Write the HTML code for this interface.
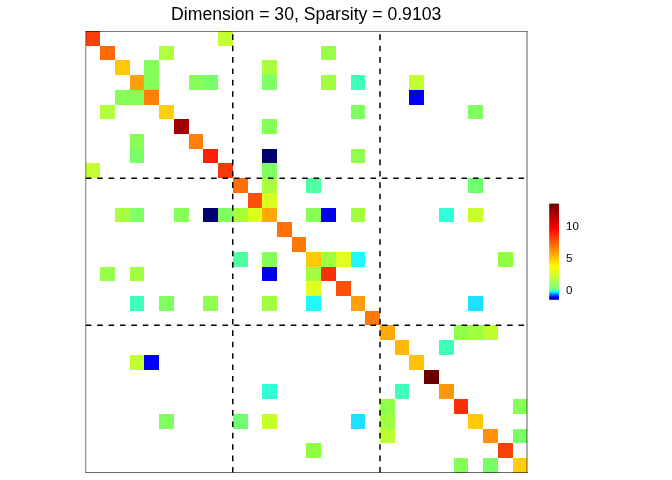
<!DOCTYPE html>
<html><head><meta charset="utf-8"><title>Dimension = 30, Sparsity = 0.9103</title>
<style>
html,body{margin:0;padding:0;background:#fff;}
body{width:672px;height:480px;overflow:hidden;position:relative;}
svg{position:absolute;left:0;top:0;display:block;}
text{font-family:"Liberation Sans",Arial,Helvetica,sans-serif;fill:#000;}
</style></head><body>
<svg width="672" height="480" viewBox="0 0 672 480">
<defs>
<linearGradient id="cb" x1="0" y1="0" x2="0" y2="1">
<stop offset="0.0000" stop-color="#6C0000"/><stop offset="0.2588" stop-color="#FF0000"/><stop offset="0.6590" stop-color="#FFFF00"/><stop offset="0.8877" stop-color="#80FF80"/><stop offset="0.9158" stop-color="#00FFFF"/><stop offset="0.9719" stop-color="#0000FF"/><stop offset="1.0000" stop-color="#000080"/>
</linearGradient>
</defs>
<rect width="672" height="480" fill="#fff"/>
<text x="306.2" y="19.7" font-size="17.62" text-anchor="middle" id="title">Dimension = 30, Sparsity = 0.9103</text>
<g shape-rendering="crispEdges">
<rect x="86" y="31" width="14" height="15" fill="#F84008"/>
<rect x="218" y="31" width="15" height="15" fill="#C4FF33"/>
<rect x="100" y="46" width="15" height="14" fill="#FF6A08"/>
<rect x="159" y="46" width="15" height="14" fill="#B0FF40"/>
<rect x="321" y="46" width="15" height="14" fill="#98FF48"/>
<rect x="115" y="60" width="15" height="15" fill="#FFC808"/>
<rect x="144" y="60" width="15" height="15" fill="#84FF5A"/>
<rect x="262" y="60" width="15" height="15" fill="#A8FF40"/>
<rect x="130" y="75" width="14" height="15" fill="#FFA008"/>
<rect x="144" y="75" width="15" height="15" fill="#84FF5A"/>
<rect x="189" y="75" width="14" height="15" fill="#88FF58"/>
<rect x="203" y="75" width="15" height="15" fill="#78FF68"/>
<rect x="262" y="75" width="15" height="15" fill="#80FF68"/>
<rect x="321" y="75" width="15" height="15" fill="#A0FF40"/>
<rect x="351" y="75" width="14" height="15" fill="#40FFB8"/>
<rect x="409" y="75" width="15" height="15" fill="#C0FF30"/>
<rect x="115" y="90" width="15" height="15" fill="#84FF5A"/>
<rect x="130" y="90" width="14" height="15" fill="#84FF5A"/>
<rect x="144" y="90" width="15" height="15" fill="#FF8008"/>
<rect x="409" y="90" width="15" height="15" fill="#0000F8"/>
<rect x="100" y="105" width="15" height="14" fill="#B0FF40"/>
<rect x="159" y="105" width="15" height="14" fill="#FFD008"/>
<rect x="351" y="105" width="14" height="14" fill="#80FF60"/>
<rect x="468" y="105" width="15" height="14" fill="#80FF60"/>
<rect x="174" y="119" width="15" height="15" fill="#A00000"/>
<rect x="262" y="119" width="15" height="15" fill="#88FF58"/>
<rect x="130" y="134" width="14" height="15" fill="#88FF58"/>
<rect x="189" y="134" width="14" height="15" fill="#FF8008"/>
<rect x="130" y="149" width="14" height="14" fill="#78FF68"/>
<rect x="203" y="149" width="15" height="14" fill="#F82008"/>
<rect x="262" y="149" width="15" height="14" fill="#000070"/>
<rect x="351" y="149" width="14" height="14" fill="#90FF50"/>
<rect x="86" y="163" width="14" height="15" fill="#C4FF33"/>
<rect x="218" y="163" width="15" height="15" fill="#F83808"/>
<rect x="262" y="163" width="15" height="15" fill="#80FF60"/>
<rect x="233" y="178" width="15" height="15" fill="#FF7008"/>
<rect x="262" y="178" width="15" height="15" fill="#A8FF3C"/>
<rect x="306" y="178" width="15" height="15" fill="#50FFA0"/>
<rect x="468" y="178" width="15" height="15" fill="#70FF70"/>
<rect x="248" y="193" width="14" height="15" fill="#FF5008"/>
<rect x="262" y="193" width="15" height="15" fill="#D8FF20"/>
<rect x="115" y="208" width="15" height="14" fill="#A8FF40"/>
<rect x="130" y="208" width="14" height="14" fill="#80FF68"/>
<rect x="174" y="208" width="15" height="14" fill="#88FF58"/>
<rect x="203" y="208" width="15" height="14" fill="#000070"/>
<rect x="218" y="208" width="15" height="14" fill="#80FF60"/>
<rect x="233" y="208" width="15" height="14" fill="#A8FF3C"/>
<rect x="248" y="208" width="14" height="14" fill="#D8FF20"/>
<rect x="262" y="208" width="15" height="14" fill="#FFA808"/>
<rect x="306" y="208" width="15" height="14" fill="#88FF58"/>
<rect x="321" y="208" width="15" height="14" fill="#0000F0"/>
<rect x="351" y="208" width="14" height="14" fill="#A0FF40"/>
<rect x="439" y="208" width="15" height="14" fill="#30FFD8"/>
<rect x="468" y="208" width="15" height="14" fill="#C8FF28"/>
<rect x="277" y="222" width="15" height="15" fill="#FF7008"/>
<rect x="292" y="237" width="14" height="15" fill="#FF7808"/>
<rect x="233" y="252" width="15" height="15" fill="#50FFA0"/>
<rect x="262" y="252" width="15" height="15" fill="#88FF58"/>
<rect x="306" y="252" width="15" height="15" fill="#FFC808"/>
<rect x="321" y="252" width="15" height="15" fill="#A0FF40"/>
<rect x="336" y="252" width="15" height="15" fill="#E0FF20"/>
<rect x="351" y="252" width="14" height="15" fill="#20F8FF"/>
<rect x="498" y="252" width="15" height="15" fill="#90FF40"/>
<rect x="100" y="267" width="15" height="14" fill="#98FF48"/>
<rect x="130" y="267" width="14" height="14" fill="#A0FF40"/>
<rect x="262" y="267" width="15" height="14" fill="#0000F0"/>
<rect x="306" y="267" width="15" height="14" fill="#A0FF40"/>
<rect x="321" y="267" width="15" height="14" fill="#F83008"/>
<rect x="306" y="281" width="15" height="15" fill="#E0FF20"/>
<rect x="336" y="281" width="15" height="15" fill="#FF5008"/>
<rect x="130" y="296" width="14" height="15" fill="#40FFB8"/>
<rect x="159" y="296" width="15" height="15" fill="#80FF60"/>
<rect x="203" y="296" width="15" height="15" fill="#90FF50"/>
<rect x="262" y="296" width="15" height="15" fill="#A0FF40"/>
<rect x="306" y="296" width="15" height="15" fill="#20F8FF"/>
<rect x="351" y="296" width="14" height="15" fill="#FFA008"/>
<rect x="468" y="296" width="15" height="15" fill="#20E0FF"/>
<rect x="365" y="311" width="15" height="14" fill="#FF7808"/>
<rect x="380" y="325" width="15" height="15" fill="#FFA808"/>
<rect x="454" y="325" width="14" height="15" fill="#90FF48"/>
<rect x="468" y="325" width="15" height="15" fill="#A0FF40"/>
<rect x="483" y="325" width="15" height="15" fill="#BCFF2C"/>
<rect x="395" y="340" width="14" height="15" fill="#FFB808"/>
<rect x="439" y="340" width="15" height="15" fill="#40FFB8"/>
<rect x="130" y="355" width="14" height="15" fill="#C0FF30"/>
<rect x="144" y="355" width="15" height="15" fill="#0000F8"/>
<rect x="409" y="355" width="15" height="15" fill="#FFC208"/>
<rect x="424" y="370" width="15" height="14" fill="#6C0000"/>
<rect x="262" y="384" width="15" height="15" fill="#30FFD8"/>
<rect x="395" y="384" width="14" height="15" fill="#40FFB8"/>
<rect x="439" y="384" width="15" height="15" fill="#FF9808"/>
<rect x="380" y="399" width="15" height="15" fill="#90FF48"/>
<rect x="454" y="399" width="14" height="15" fill="#F83008"/>
<rect x="513" y="399" width="14" height="15" fill="#88FF58"/>
<rect x="159" y="414" width="15" height="15" fill="#80FF60"/>
<rect x="233" y="414" width="15" height="15" fill="#70FF70"/>
<rect x="262" y="414" width="15" height="15" fill="#C8FF28"/>
<rect x="351" y="414" width="14" height="15" fill="#20E0FF"/>
<rect x="380" y="414" width="15" height="15" fill="#A0FF40"/>
<rect x="468" y="414" width="15" height="15" fill="#FFC808"/>
<rect x="380" y="429" width="15" height="14" fill="#BCFF2C"/>
<rect x="483" y="429" width="15" height="14" fill="#FF9008"/>
<rect x="513" y="429" width="14" height="14" fill="#78FF68"/>
<rect x="306" y="443" width="15" height="15" fill="#90FF40"/>
<rect x="498" y="443" width="15" height="15" fill="#F84008"/>
<rect x="454" y="458" width="14" height="15" fill="#88FF58"/>
<rect x="483" y="458" width="15" height="15" fill="#78FF68"/>
<rect x="513" y="458" width="14" height="15" fill="#FFCE08"/>
</g>
<g stroke="#000" stroke-width="1.5" stroke-dasharray="5.6 5.787" fill="none">
<line x1="232.75" y1="472.6" x2="232.75" y2="31.5"/>
<line x1="380" y1="472.6" x2="380" y2="31.5"/>
<line x1="85.8" y1="178.25" x2="527" y2="178.25"/>
<line x1="85.8" y1="325.3" x2="527" y2="325.3"/>
</g>
<g shape-rendering="crispEdges" fill="#000">
<rect x="85" y="31" width="443" height="1" fill-opacity="0.53"/>
<rect x="85" y="472" width="443" height="1" fill-opacity="0.59"/>
<rect x="85" y="32" width="1" height="440" fill-opacity="0.40"/>
<rect x="86" y="32" width="1" height="440" fill-opacity="0.13"/>
<rect x="526" y="32" width="1" height="440" fill-opacity="0.33"/>
<rect x="527" y="32" width="1" height="440" fill-opacity="0.31"/>
</g>
<rect x="549.2" y="203.6" width="9.8" height="96.2" fill="url(#cb)"/>
<text x="566" y="230" font-size="11.5">10</text>
<text x="566" y="262" font-size="11.5">5</text>
<text x="566" y="294" font-size="11.5">0</text>
</svg>
</body></html>
